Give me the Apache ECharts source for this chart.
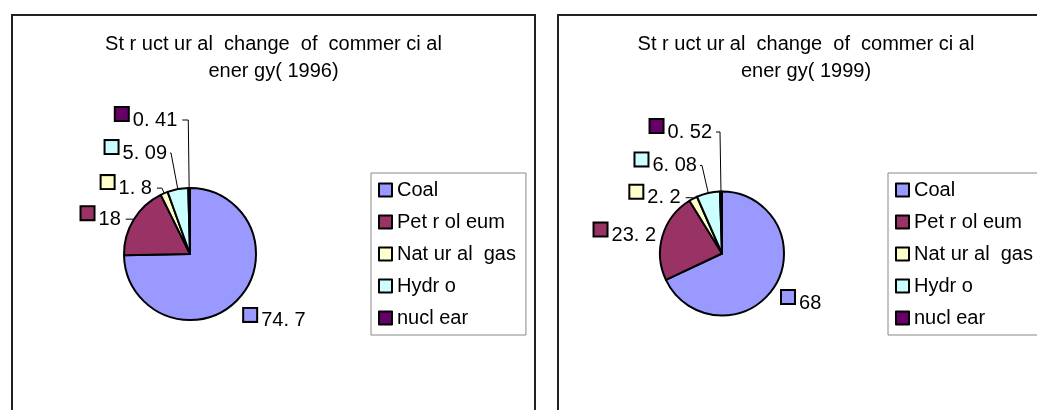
<!DOCTYPE html>
<html>
<head>
<meta charset="utf-8">
<title>Structural change of commercial energy</title>
<script src="https://cdn.jsdelivr.net/npm/echarts@6/dist/echarts.min.js"></script>
<style>
  html, body { margin: 0; padding: 0; background: #fff; overflow: hidden; }
  body { width: 1037px; height: 410px; position: relative; }
  .panel { position: absolute; top: 14px; height: 420px; border: 2px solid #222; }
</style>
</head>
<body>
<div id="chart1996" class="panel" style="left: 11px; width: 521px;"></div>
<div id="chart1999" class="panel" style="left: 557px; width: 494px;"></div>
<script>
const categories = ['Coal', 'Pet r ol eum', 'Nat ur al  gas', 'Hydr o', 'nucl ear'];
const values1996 = [74.7, 18, 1.8, 5.09, 0.41];
const values1999 = [68, 23.2, 2.2, 6.08, 0.52];
const title1996 = 'St r uct ur al  change  of  commer ci al\nener gy( 1996)';
const title1999 = 'St r uct ur al  change  of  commer ci al\nener gy( 1999)';
const sliceColors = ['#9999FF', '#993366', '#FFFFCC', '#CCFFFF', '#660066'];

// leader line per slice: length, length2, gap to label, line visible
const leaders1996 = [[29.5, 0, -14, false], [1, 7, 5, true], [5.6, 5, 5, true], [36.7, 1, 3, true], [68, 6, 5, true]];
const leaders1999 = [[30.4, 0, -18, false], [1, 0, 5.6, false], [1, 7, 5, true], [28.3, 2, 3, true], [59.5, 4, 4, true]];

const FONT = '"Liberation Sans", Arial, sans-serif';

function buildOption(title, values, leaders, center, radius, legendPos) {
  const rich = {
    v: { fontSize: 20, lineHeight: 24, color: '#000', fontFamily: FONT, padding: [0, 0, 0, 5] }
  };
  sliceColors.forEach((c, i) => {
    rich['k' + i] = { width: 12, height: 12, backgroundColor: c, borderColor: '#000', borderWidth: 2, verticalAlign: 'top' };
  });

  return {
    animation: false,
    color: sliceColors,
    title: {
      text: title,
      left: 'center',
      top: 15,
      padding: 0,
      textStyle: { fontSize: 20, lineHeight: 27, fontWeight: 'normal', color: '#000', fontFamily: FONT }
    },
    legend: {
      orient: 'vertical',
      left: legendPos[0],
      top: legendPos[1],
      data: categories,
      icon: 'rect',
      itemWidth: 13,
      itemHeight: 13,
      itemGap: 2,
      padding: [2, 10, 2, 7],
      borderColor: '#888',
      borderWidth: 1,
      selectedMode: false,
      itemStyle: { borderColor: '#000', borderWidth: 2 },
      textStyle: { fontSize: 20, lineHeight: 20, color: '#000', fontFamily: FONT, padding: [10, 0, 0, 0] }
    },
    series: [{
      type: 'pie',
      center: center,
      radius: radius,
      startAngle: 90,
      clockwise: true,
      avoidLabelOverlap: false,
      silent: true,
      itemStyle: { borderColor: '#000', borderWidth: 2 },
      label: {
        show: true,
        position: 'outside',
        formatter: p => '{k' + p.dataIndex + '|}{v|' + String(p.value).replace('.', '. ') + '}',
        rich: rich
      },
      labelLine: { show: true, smooth: false, lineStyle: { color: '#000', width: 1 } },
      data: values.map((v, i) => ({
        name: categories[i],
        value: v,
        itemStyle: { color: sliceColors[i] },
        label: { distanceToLabelLine: leaders[i][2] },
        labelLine: { show: leaders[i][3], length: leaders[i][0], length2: leaders[i][1] }
      }))
    }]
  };
}

const chartA = echarts.init(document.getElementById('chart1996'));
chartA.setOption(buildOption(title1996, values1996, leaders1996, [177, 238], 66, [358, 157]));

const chartB = echarts.init(document.getElementById('chart1999'));
chartB.setOption(buildOption(title1999, values1999, leaders1999, [163, 237.5], 62, [329, 157]));
</script>
</body>
</html>
